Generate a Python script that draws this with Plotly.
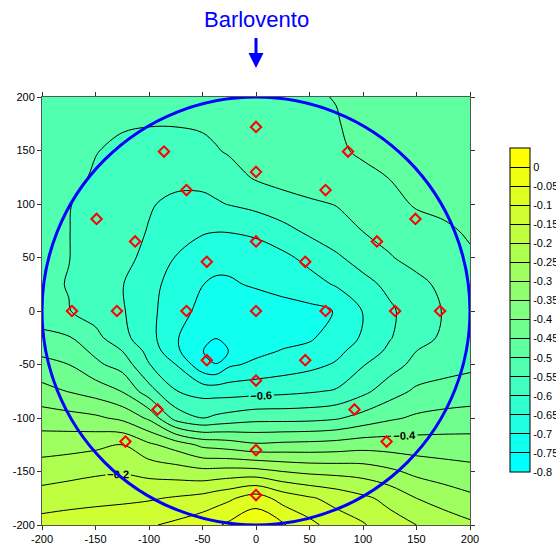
import plotly.graph_objects as go

# ---------------- data ----------------
# grid columns (x) and rows (y), in the roof-plan coordinates
GRID_X = [-200, -175, -150, -125, -100, -75, -50, -37.5, -25, 0, 25, 50, 75, 100, 125, 150, 175, 200]
GRID_Y = [-200, -175, -150, -125, -100, -75, -50, -37.5, -25, 0, 25, 50, 75, 100, 125, 150, 175, 200]

# pressure coefficient, one list per row (y)
CP_Y_M200 = [-0.13, -0.125, -0.12, -0.115, -0.105, -0.09, -0.07, -0.058, -0.04, -0.01, -0.045, -0.085, -0.125, -0.145, -0.18, -0.2, -0.22, -0.24]
CP_Y_M175 = [-0.177, -0.169, -0.164, -0.16, -0.155, -0.145, -0.133, -0.12, -0.108, -0.075, -0.119, -0.144, -0.166, -0.19, -0.214, -0.25, -0.272, -0.29]
CP_Y_M150 = [-0.225, -0.217, -0.208, -0.204, -0.216, -0.225, -0.236, -0.234, -0.231, -0.233, -0.25, -0.261, -0.265, -0.271, -0.29, -0.313, -0.325, -0.334]
CP_Y_M125 = [-0.272, -0.268, -0.261, -0.25, -0.291, -0.321, -0.362, -0.368, -0.375, -0.393, -0.388, -0.385, -0.38, -0.371, -0.373, -0.376, -0.378, -0.38]
CP_Y_M100 = [-0.326, -0.332, -0.341, -0.361, -0.409, -0.52, -0.55, -0.54, -0.531, -0.517, -0.517, -0.515, -0.506, -0.481, -0.458, -0.442, -0.434, -0.429]
CP_Y_M75 = [-0.383, -0.402, -0.421, -0.452, -0.53, -0.598, -0.618, -0.62, -0.621, -0.617, -0.612, -0.605, -0.595, -0.563, -0.522, -0.491, -0.482, -0.477]
CP_Y_M50 = [-0.435, -0.45, -0.49, -0.52, -0.598, -0.65, -0.735, -0.748, -0.708, -0.69, -0.677, -0.664, -0.645, -0.603, -0.572, -0.535, -0.52, -0.51]
CP_Y_M37 = [-0.461, -0.475, -0.51, -0.55, -0.615, -0.69, -0.748, -0.78, -0.748, -0.712, -0.697, -0.685, -0.662, -0.628, -0.59, -0.55, -0.53, -0.52]
CP_Y_M25 = [-0.486, -0.496, -0.535, -0.585, -0.632, -0.695, -0.74, -0.748, -0.735, -0.725, -0.715, -0.707, -0.675, -0.645, -0.603, -0.57, -0.542, -0.525]
CP_Y_0 = [-0.53, -0.548, -0.572, -0.595, -0.637, -0.678, -0.715, -0.722, -0.725, -0.725, -0.72, -0.712, -0.698, -0.648, -0.608, -0.575, -0.548, -0.53]
CP_Y_25 = [-0.54, -0.552, -0.572, -0.598, -0.633, -0.67, -0.699, -0.708, -0.705, -0.695, -0.682, -0.67, -0.645, -0.615, -0.588, -0.562, -0.54, -0.525]
CP_Y_50 = [-0.54, -0.549, -0.57, -0.587, -0.612, -0.652, -0.675, -0.683, -0.688, -0.68, -0.662, -0.635, -0.607, -0.58, -0.553, -0.535, -0.518, -0.505]
CP_Y_75 = [-0.535, -0.549, -0.568, -0.585, -0.602, -0.625, -0.645, -0.648, -0.647, -0.638, -0.615, -0.59, -0.572, -0.549, -0.535, -0.52, -0.507, -0.495]
CP_Y_100 = [-0.53, -0.548, -0.565, -0.582, -0.597, -0.608, -0.61, -0.605, -0.598, -0.585, -0.57, -0.558, -0.548, -0.535, -0.515, -0.495, -0.49, -0.485]
CP_Y_125 = [-0.52, -0.535, -0.556, -0.572, -0.582, -0.59, -0.588, -0.58, -0.568, -0.545, -0.532, -0.522, -0.515, -0.508, -0.499, -0.49, -0.485, -0.48]
CP_Y_150 = [-0.52, -0.535, -0.548, -0.56, -0.565, -0.565, -0.56, -0.553, -0.545, -0.535, -0.525, -0.515, -0.505, -0.495, -0.488, -0.482, -0.477, -0.472]
CP_Y_175 = [-0.52, -0.53, -0.54, -0.545, -0.548, -0.548, -0.545, -0.54, -0.535, -0.525, -0.515, -0.508, -0.502, -0.49, -0.485, -0.48, -0.475, -0.47]
CP_Y_200 = [-0.52, -0.52, -0.52, -0.525, -0.525, -0.525, -0.52, -0.518, -0.515, -0.51, -0.508, -0.503, -0.499, -0.49, -0.485, -0.48, -0.475, -0.47]

# pressure taps (red diamonds)
TAP_X = [0, -86, 86, 0, -65, 65, -149, 149, -113, 0, 113, -46, 46,
         -172, -130, -65, 0, 65, 130, 172, -46, 46, 0, -92, 92, -122, 122, 0, 0]
TAP_Y = [172, 149, 149, 130, 113, 113, 86, 86, 65, 65, 65, 46, 46,
         0, 0, 0, 0, 0, 0, 0, -46, -46, -65, -92, -92, -122, -122, -130, -172]

AXIS_TICKS = [-200, -150, -100, -50, 0, 50, 100, 150, 200]
AXIS_TICK_TEXT = ["-200", "-150", "-100", "-50", "0", "50", "100", "150", "200"]

CBAR_TICKS = [-0.8, -0.75, -0.7, -0.65, -0.6, -0.55, -0.5, -0.45, -0.4,
              -0.35, -0.3, -0.25, -0.2, -0.15, -0.1, -0.05, 0.0]
CBAR_TICK_TEXT = ["-0.8", "-0.75", "-0.7", "-0.65", "-0.6", "-0.55", "-0.5", "-0.45", "-0.4",
                  "-0.35", "-0.3", "-0.25", "-0.2", "-0.15", "-0.1", "-0.05", "0"]

CIRCLE_RADIUS = 200
TITLE_TEXT = "Barlovento"

# ---------------- build ----------------
Z = [CP_Y_M200, CP_Y_M175, CP_Y_M150, CP_Y_M125, CP_Y_M100, CP_Y_M75, CP_Y_M50, CP_Y_M37,
     CP_Y_M25, CP_Y_0, CP_Y_25, CP_Y_50, CP_Y_75, CP_Y_100, CP_Y_125, CP_Y_150, CP_Y_175, CP_Y_200]

FONT = "Liberation Sans, Arial, sans-serif"
CYAN = "rgb(0,255,255)"
YELLOW = "rgb(255,255,0)"

# 17 discrete band colours from cyan to yellow
n_bands = 17
band_colors = []
for k in range(n_bands):
    t = k / (n_bands - 1)
    band_colors.append("rgb(%d,255,%d)" % (round(255 * t), round(255 * (1 - t))))
stepped = []
for k, c in enumerate(band_colors):
    stepped.append([k / n_bands, c])
    stepped.append([(k + 1) / n_bands, c])

fig = go.Figure()

# filled bands
fig.add_trace(go.Contour(
    x=GRID_X, y=GRID_Y, z=Z,
    colorscale=[[0, CYAN], [1, YELLOW]],
    zauto=False, zmin=-0.775, zmax=0.025,
    contours=dict(start=-0.75, end=0.0, size=0.05, coloring="fill", showlines=False),
    line=dict(width=0, smoothing=1),
    showscale=False, hoverinfo="skip",
))

# contour lines (split so that only every 0.2 carries labels)
for start, end, labels in [(-0.75, -0.15, False), (-0.7, -0.1, False),
                           (-0.65, -0.05, False), (-0.6, -0.2, True)]:
    fig.add_trace(go.Contour(
        x=GRID_X, y=GRID_Y, z=Z,
        contours=dict(start=start, end=end, size=0.2, coloring="none",
                      showlabels=labels,
                      labelfont=dict(family=FONT, size=11, color="black", weight="bold")),
        line=dict(color="black", width=1, smoothing=1),
        showscale=False, hoverinfo="skip",
    ))

# pressure taps
fig.add_trace(go.Scatter(
    x=TAP_X, y=TAP_Y, mode="markers",
    marker=dict(symbol="diamond-open", size=8, color="red", line=dict(width=2, color="red")),
    hoverinfo="skip", showlegend=False,
))

# colour bar carrier (a single empty point, nothing is drawn)
fig.add_trace(go.Scatter(
    x=[None], y=[None], mode="markers", showlegend=False, hoverinfo="skip",
    marker=dict(
        color=[CBAR_TICKS[0]], colorscale=stepped, cmin=-0.8, cmax=0.05, showscale=True,
        colorbar=dict(
            x=(510 - 42) / 428, xanchor="left", xpad=0,
            y=(525 - 310) / 428, yanchor="middle", ypad=0,
            len=324, lenmode="pixels", thickness=20, thicknessmode="pixels",
            outlinewidth=1, outlinecolor="black",
            tickmode="array", tickvals=CBAR_TICKS, ticktext=CBAR_TICK_TEXT,
            ticks="inside", ticklen=20, tickwidth=1, tickcolor="black",
            tickfont=dict(family=FONT, size=11, color="black"),
        ),
    ),
))

axis_common = dict(
    range=[-CIRCLE_RADIUS, CIRCLE_RADIUS], tickmode="array",
    tickvals=AXIS_TICKS, ticktext=AXIS_TICK_TEXT,
    ticks="outside", ticklen=4, tickwidth=1, tickcolor="#333333",
    showline=True, linecolor="#555555", linewidth=1, mirror="ticks",
    showgrid=False, zeroline=False, automargin=False,
    tickfont=dict(family=FONT, size=11, color="black"),
)

# plot area at x 42..470, y 97..525 of the 556x544 window
fig.update_layout(
    width=556, height=544,
    margin=dict(l=42, r=86, t=97, b=19, autoexpand=False),
    paper_bgcolor="white", plot_bgcolor="white",
    font=dict(family=FONT, size=11, color="black"),
    xaxis=axis_common, yaxis=axis_common,
    showlegend=False,
    shapes=[dict(type="circle", xref="x", yref="y",
                 x0=-CIRCLE_RADIUS, x1=CIRCLE_RADIUS, y0=-CIRCLE_RADIUS, y1=CIRCLE_RADIUS,
                 line=dict(color="blue", width=3), layer="above")],
    annotations=[dict(
        text=TITLE_TEXT, xref="x", yref="paper", x=0, y=(525 - 68) / 428,
        showarrow=True, ax=0, ay=-48, arrowhead=2, arrowsize=1, arrowwidth=3,
        arrowcolor="blue", startstandoff=4,
        font=dict(family=FONT, size=22, color="blue"),
    )],
)

# remove the default page margin so the figure fills the window exactly
fig.write_html("out.html",
               config={"displayModeBar": False},
               post_script="document.body.style.margin='0px';document.body.style.overflow='hidden';")
